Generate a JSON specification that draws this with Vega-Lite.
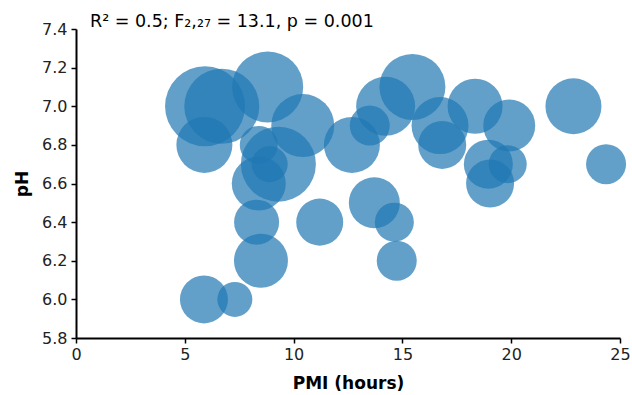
{
  "$schema": "https://vega.github.io/schema/vega-lite/v6.json",
  "width": 544,
  "height": 309,
  "autosize": "none",
  "padding": {"left": 76, "top": 29, "right": 12, "bottom": 57},
  "background": "white",
  "title": {
    "text": "R² = 0.5; F₂,₂₇ = 13.1, p = 0.001",
    "anchor": "start",
    "frame": "group",
    "dx": 14,
    "dy": 25,
    "offset": 2,
    "baseline": "alphabetic",
    "font": "DejaVu Sans",
    "fontSize": 17.5,
    "fontWeight": "normal",
    "color": "#000000"
  },
  "config": {
    "view": {"stroke": null},
    "axis": {
      "labelFont": "DejaVu Sans",
      "labelFontSize": 16,
      "labelColor": "#222222",
      "titleFont": "DejaVu Sans",
      "titleFontSize": 17,
      "titleFontWeight": "bold",
      "titleColor": "#000000",
      "domainColor": "#000000",
      "domainWidth": 2,
      "tickColor": "#000000",
      "tickWidth": 1.5,
      "tickSize": 5,
      "grid": false,
      "labelFlush": false
    }
  },
  "data": {
    "values": [
      {"PMI": 5.93, "pH": 7.0, "d": 80},
      {"PMI": 6.7, "pH": 7.0, "d": 75},
      {"PMI": 8.81, "pH": 7.1, "d": 71},
      {"PMI": 10.42, "pH": 6.9, "d": 63},
      {"PMI": 5.9, "pH": 6.8, "d": 56},
      {"PMI": 8.4, "pH": 6.8, "d": 38},
      {"PMI": 9.3, "pH": 6.7, "d": 75},
      {"PMI": 8.9, "pH": 6.7, "d": 36},
      {"PMI": 8.4, "pH": 6.6, "d": 54},
      {"PMI": 8.3, "pH": 6.4, "d": 45},
      {"PMI": 11.2, "pH": 6.4, "d": 47},
      {"PMI": 8.5, "pH": 6.2, "d": 54},
      {"PMI": 5.88, "pH": 6.0, "d": 48},
      {"PMI": 7.3, "pH": 6.0, "d": 35},
      {"PMI": 12.68, "pH": 6.8, "d": 56},
      {"PMI": 13.5, "pH": 6.9, "d": 40},
      {"PMI": 14.23, "pH": 7.0, "d": 59},
      {"PMI": 15.46, "pH": 7.1, "d": 66},
      {"PMI": 16.73, "pH": 6.9, "d": 57},
      {"PMI": 16.83, "pH": 6.8, "d": 48},
      {"PMI": 18.34, "pH": 7.0, "d": 55},
      {"PMI": 19.91, "pH": 6.9, "d": 52},
      {"PMI": 18.95, "pH": 6.7, "d": 49},
      {"PMI": 19.84, "pH": 6.7, "d": 38},
      {"PMI": 19.03, "pH": 6.6, "d": 48},
      {"PMI": 22.86, "pH": 7.0, "d": 56},
      {"PMI": 24.36, "pH": 6.7, "d": 40},
      {"PMI": 13.71, "pH": 6.5, "d": 51},
      {"PMI": 14.63, "pH": 6.4, "d": 39},
      {"PMI": 14.74, "pH": 6.2, "d": 40}
    ]
  },
  "mark": {"type": "circle", "color": "#1f77b4", "opacity": 0.7, "strokeWidth": 0},
  "encoding": {
    "x": {
      "field": "PMI",
      "type": "quantitative",
      "title": "PMI (hours)",
      "scale": {"domain": [0, 25], "nice": false},
      "axis": {"values": [0, 5, 10, 15, 20, 25], "labelPadding": 3, "titlePadding": 13}
    },
    "y": {
      "field": "pH",
      "type": "quantitative",
      "title": "pH",
      "scale": {"domain": [5.8, 7.4], "nice": false, "zero": false},
      "axis": {"values": [5.8, 6.0, 6.2, 6.4, 6.6, 6.8, 7.0, 7.2, 7.4], "format": ".1f", "labelPadding": 4, "titlePadding": 10}
    },
    "size": {
      "field": "d",
      "type": "quantitative",
      "legend": null,
      "scale": {"type": "pow", "exponent": 2, "domain": [0, 80], "range": [0, 6400]}
    }
  }
}
